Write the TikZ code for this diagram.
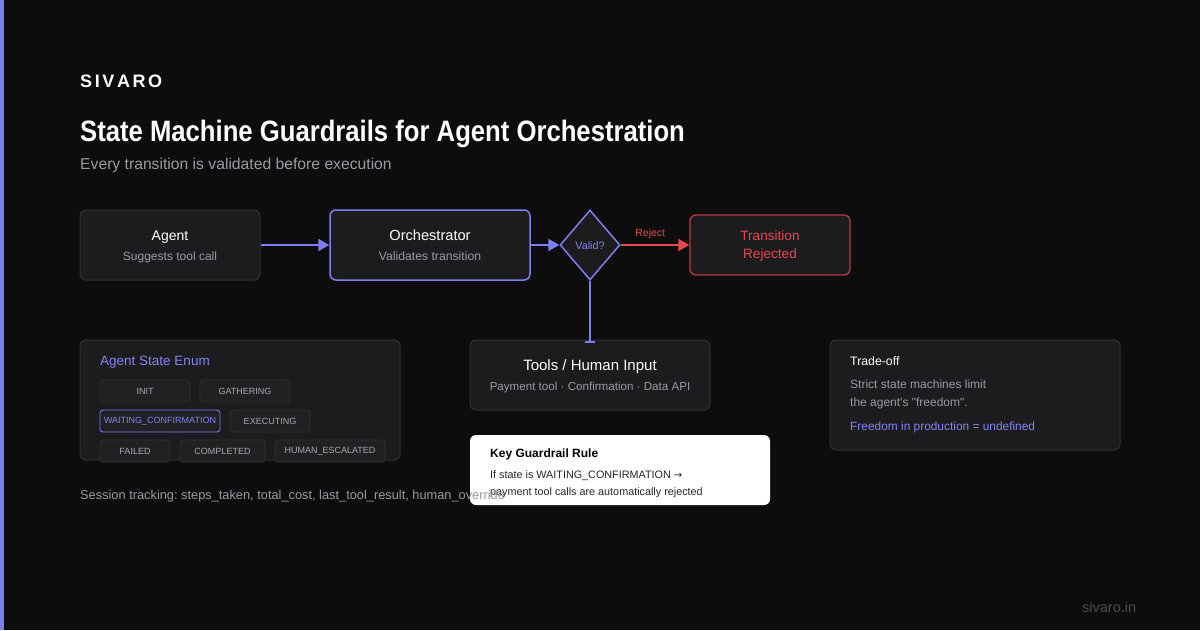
\documentclass[tikz,border=0pt]{standalone}
\usepackage{fontspec}
\setmainfont{Liberation Sans}[Ligatures=NoCommon]
\usepackage{graphicx}
\usetikzlibrary{shapes.geometric,arrows.meta}
\frenchspacing
\definecolor{bg}{HTML}{0D0D0E}
\definecolor{card}{HTML}{1C1C1F}
\definecolor{cardline}{HTML}{303034}
\definecolor{chip}{HTML}{212124}
\definecolor{accent}{HTML}{7B7FF0}
\definecolor{accenttext}{HTML}{8286F2}
\definecolor{redc}{HTML}{E5484D}
\definecolor{redline}{HTML}{B93A3F}
\definecolor{graytext}{HTML}{9A9AA2}
\definecolor{dimtext}{HTML}{4C4C52}
\definecolor{chiptext}{HTML}{A8A8B0}
\tikzset{
  card/.style={draw=cardline, fill=card, line width=1pt, rounded corners=6pt, inner sep=0pt},
  chipbox/.style={draw=cardline, fill=chip, line width=0.8pt, rounded corners=3pt, inner sep=0pt, minimum height=22pt, text=chiptext, font=\fontsize{9}{10}\selectfont},
  flow/.style={draw=accent, line width=2pt, -{Triangle[length=11pt,width=12pt]}},
  txt/.style={inner sep=0pt, anchor=base west},
  ctxt/.style={inner sep=0pt, anchor=base},
}
\begin{document}
\begin{tikzpicture}[x=1pt,y=-1pt]
\fill[bg] (0,0) rectangle (1200,630);
\useasboundingbox (0,0) rectangle (1200,630);
\fill[accent] (0,0) rectangle (4,630);

% header
\node[txt, text=white, font=\bfseries\fontsize{18}{20}\selectfont] (brand) at (80,87) {S\hspace{2.6pt}I\hspace{2.6pt}V\hspace{2.6pt}A\hspace{2.6pt}R\hspace{2.6pt}O};
\node[txt, text=white, font=\bfseries\fontsize{29.5}{32}\selectfont] (title) at (80,141) {\scalebox{0.87}[1]{State Machine Guardrails for Agent Orchestration}};
\node[txt, text=graytext, font=\fontsize{15.7}{17}\selectfont] (subtitle) at (80,169.5) {Every transition is validated before execution};

% top flow
\node[card, minimum width=180pt, minimum height=70pt] (agent) at (170,245) {};
\node[ctxt, text=white, font=\fontsize{14}{16}\selectfont] (agentT) at (170,240) {Agent};
\node[ctxt, text=graytext, font=\fontsize{12}{14}\selectfont] (agentS) at (170,260) {Suggests tool call};

\node[card, draw=accent, line width=1.5pt, minimum width=200pt, minimum height=70pt] (orch) at (430,245) {};
\node[ctxt, text=white, font=\fontsize{14.6}{16}\selectfont] (orchT) at (430,240) {Orchestrator};
\node[ctxt, text=graytext, font=\fontsize{12.2}{14}\selectfont] (orchS) at (430,260) {Validates transition};

\node[diamond, draw=accent, fill=card, line width=1.5pt, minimum width=60pt, minimum height=70pt, inner sep=0pt] (valid) at (590,245) {};
\node[ctxt, text=accenttext, font=\fontsize{10.8}{12}\selectfont] (validT) at (590,249) {Valid?};

\node[card, draw=redline, line width=1.3pt, minimum width=160pt, minimum height=60pt] (rej) at (770,245) {};
\node[ctxt, text=redc, font=\fontsize{13.6}{15}\selectfont] (rejT1) at (770,240) {Transition};
\node[ctxt, text=redc, font=\fontsize{13.6}{15}\selectfont] (rejT2) at (770,258) {Rejected};

\draw[flow] (agent.east) -- (orch.west);
\draw[flow] (orch.east) -- (valid.west);
\draw[draw=redc, line width=2pt, -{Triangle[length=11pt,width=12pt]}] (valid.east) -- node[pos=0.43, above=5pt, inner sep=0pt, text=redc, font=\fontsize{10.5}{12}\selectfont] (rejL) {Reject} (rej.west);

% tools
\node[card, minimum width=240pt, minimum height=70pt] (tools) at (590,375) {};
\node[ctxt, text=white, font=\fontsize{15}{17}\selectfont] (toolsT) at (590,370) {Tools / Human Input};
\node[ctxt, text=graytext, font=\fontsize{11.6}{13}\selectfont] (toolsS) at (590,390) {Payment tool {\textperiodcentered} Confirmation {\textperiodcentered} Data API};
\draw[draw=accent, line width=2pt, -{Bar[width=10pt,line width=2pt]}] (valid.south) -- ([yshift=-3pt]tools.north);

% enum card
\node[card, minimum width=320pt, minimum height=120pt] (enum) at (240,400) {};
\node[txt, text=accenttext, font=\fontsize{13.5}{15}\selectfont] (enumT) at (100,365) {Agent State Enum};
\node[chipbox, minimum width=90pt] (c1) at (145,391) {INIT};
\node[chipbox, minimum width=90pt] (c2) at (245,391) {GATHERING};
\node[chipbox, minimum width=120pt, draw=accent, text=accenttext] (c3) at (160,421) {WAITING\_CONFIRMATION};
\node[chipbox, minimum width=80pt] (c4) at (270,421) {EXECUTING};
\node[chipbox, minimum width=70pt] (c5) at (135,451) {FAILED};
\node[chipbox, minimum width=85pt] (c6) at (222.5,451) {COMPLETED};
\node[chipbox, minimum width=110pt] (c7) at (330,451) {HUMAN\_ESCALATED};

% trade-off
\node[card, minimum width=290pt, minimum height=110pt] (trade) at (975,395) {};
\node[txt, text=white, font=\fontsize{12.3}{14}\selectfont] (tradeT) at (850,365) {Trade-off};
\node[txt, text=graytext, font=\fontsize{12}{13}\selectfont] (tradeA) at (850,388) {Strict state machines limit};
\node[txt, text=graytext, font=\fontsize{12}{13}\selectfont] (tradeB) at (850,406) {the agent\textquotesingle s \textquotedbl freedom\textquotedbl.};
\node[txt, text=accenttext, font=\fontsize{11.9}{13}\selectfont] (tradeC) at (850,430) {Freedom in production = undefined};

% key rule
\node[draw=none, fill=white, rounded corners=6pt, minimum width=300pt, minimum height=70pt, inner sep=0pt] (key) at (620,470) {};
\node[txt, text=black, font=\bfseries\fontsize{12}{14}\selectfont] (keyT) at (490,457.5) {Key Guardrail Rule};
\node[txt, text=black!85, font=\fontsize{10.8}{12}\selectfont] (keyA) at (490,478) {If state is WAITING\_CONFIRMATION {\fontspec{DejaVu Sans}\fontsize{10}{11}\selectfont →}};
\node[txt, text=black!85, font=\fontsize{10.8}{12}\selectfont] (keyB) at (490,495) {payment tool calls are automatically rejected};

% footer texts
\node[txt, text=graytext, font=\fontsize{12.8}{14}\selectfont] (session) at (80,499.5) {Session tracking: steps\_taken, total\_cost, last\_tool\_result, human\_override};
\node[txt, text=dimtext, font=\fontsize{14.5}{16}\selectfont] (site) at (1082,612) {sivaro.in};
\end{tikzpicture}
\end{document}
